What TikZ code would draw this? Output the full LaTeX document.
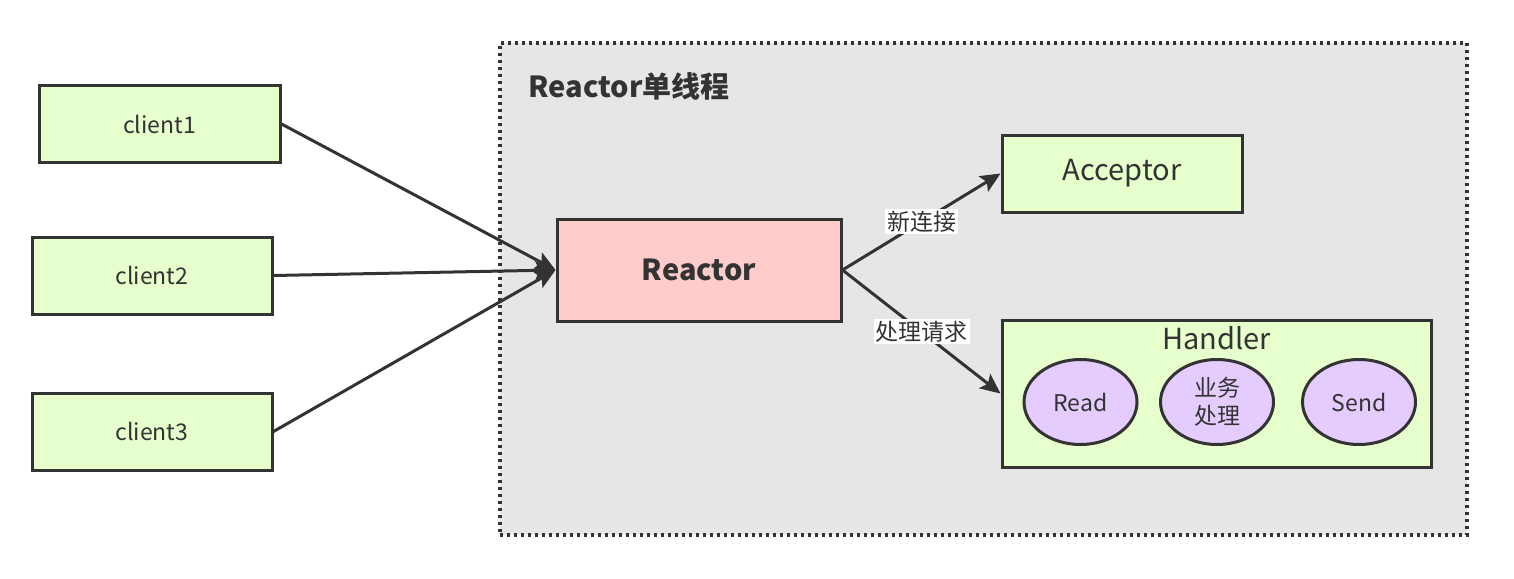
\documentclass[tikz,border=0pt]{standalone}
\usepackage{fontspec}
\setmainfont{Noto Sans CJK SC}
\usetikzlibrary{arrows.meta,positioning,shapes.geometric}
\definecolor{ClientGreen}{RGB}{230,255,204}
\definecolor{ReactorPink}{RGB}{255,204,204}
\definecolor{TaskPurple}{RGB}{229,204,255}
\definecolor{PanelGray}{RGB}{230,230,230}
\definecolor{LineGray}{RGB}{51,51,51}

\begin{document}
\begin{tikzpicture}[x=0.5pt,y=-0.5pt,
    box/.style={draw=LineGray,line width=1.5pt,fill=ClientGreen,text=LineGray,minimum height=38.5pt,inner sep=0pt,font=\fontsize{11.5}{13}\selectfont},
    task/.style={ellipse,draw=LineGray,line width=1.5pt,fill=TaskPurple,text=LineGray,minimum width=56.5pt,minimum height=42.5pt,inner sep=0pt,align=center,font=\fontsize{11.5}{14}\selectfont},
    link/.style={-{Stealth[length=10pt,width=9pt,inset=2pt]},line width=1.5pt,draw=LineGray},
    tag/.style={fill=white,inner sep=1pt,text=LineGray,font=\fontsize{11.5}{13}\selectfont}]
    \useasboundingbox (0,0) rectangle (1514,578);
    % single thread panel
    \node[draw=LineGray,line width=1.6pt,dash pattern=on 1.4pt off 2.1pt,fill=PanelGray,minimum width=483.5pt,minimum height=246pt,inner sep=0pt] (panel) at (983.5,289) {};
    \node[anchor=west,inner sep=0pt,text=LineGray,font=\bfseries\fontsize{14.5}{16}\selectfont] (title) at (528,86) {Reactor单线程};
    % clients
    \node[box,minimum width=120.5pt] (c1) at (159.5,124) {client1};
    \node[box,minimum width=120pt] (c2) at (152,275.5) {client2};
    \node[box,minimum width=120pt] (c3) at (152,431.5) {client3};
    \node[box,fill=ReactorPink,minimum width=142pt,minimum height=51pt,font=\bfseries\fontsize{14.5}{16}\selectfont] (reactor) at (699,270) {Reactor};
    \node[box,minimum width=120pt,font=\fontsize{14.5}{16}\selectfont] (acc) at (1122,173.5) {Acceptor};
    \node[box,minimum width=214.5pt,minimum height=73.5pt] (hdl) at (1216.5,393.5) {};
    \node[text=LineGray,font=\fontsize{14.5}{16}\selectfont] (hdltxt) at (1216.5,338) {Handler};
    \node[task] (read) at (1080.5,402) {Read};
    \node[task] (biz) at (1217,402) {业务\\处理};
    \node[task] (send) at (1359,402) {Send};
    \draw[link] (c1.east) -- (reactor.west);
    \draw[link] (c2.east) -- (reactor.west);
    \draw[link] (c3.east) -- (reactor.west);
    \draw[link] (reactor.east) -- node[tag] {新连接} (acc.west);
    \draw[link] (reactor.east) -- node[tag] {处理请求} (hdl.west);
\end{tikzpicture}
\end{document}
